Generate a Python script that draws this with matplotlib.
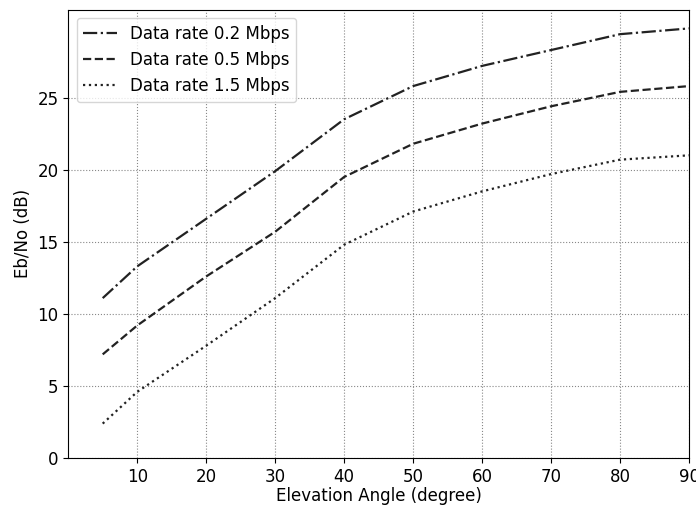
import matplotlib
matplotlib.use("Agg")
import matplotlib.pyplot as plt

angles = [5, 10, 20, 30, 40, 50, 60, 70, 80, 90]
ebno_02 = [11.1, 13.3, 16.6, 19.9, 23.5, 25.8, 27.2, 28.3, 29.4, 29.8]
ebno_05 = [7.2, 9.2, 12.6, 15.7, 19.5, 21.8, 23.2, 24.4, 25.4, 25.8]
ebno_15 = [2.4, 4.6, 7.8, 11.1, 14.8, 17.1, 18.5, 19.7, 20.7, 21.0]
labels = ["Data rate 0.2 Mbps", "Data rate 0.5 Mbps", "Data rate 1.5 Mbps"]

fig = plt.figure(figsize=(6.96, 5.08), dpi=100)
ax = fig.add_axes([0.098, 0.098, 0.892, 0.883])

ax.plot(angles, ebno_02, linestyle="-.", color="#222222", linewidth=1.6, label=labels[0])
ax.plot(angles, ebno_05, linestyle="--", color="#222222", linewidth=1.6, label=labels[1])
ax.plot(angles, ebno_15, linestyle=":", color="#222222", linewidth=1.6, label=labels[2])

ax.set_xlim(0, 90)
ax.set_ylim(0, 31.1)
ax.set_xticks(range(10, 100, 10))
ax.set_yticks(range(0, 30, 5))
ax.tick_params(labelsize=12)
ax.grid(True, linestyle=":", color="#888888", linewidth=0.8)

ax.set_xlabel("Elevation Angle (degree)", fontsize=12, labelpad=1)
ax.set_ylabel("Eb/No (dB)", fontsize=12)
ax.legend(loc="upper left", fontsize=12)

fig.savefig("out.png", dpi=100)
